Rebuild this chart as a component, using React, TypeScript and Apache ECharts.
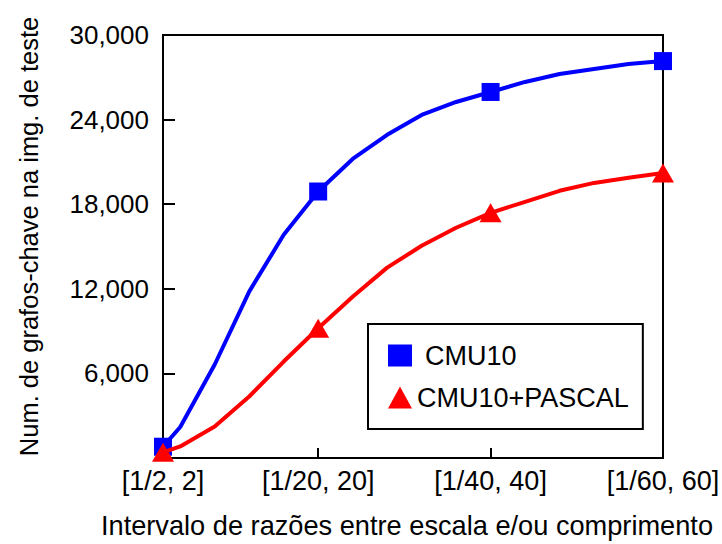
import React, { useEffect, useRef } from "react";
import * as echarts from "echarts";

const xValues = [2, 4, 8, 12, 16, 20, 24, 28, 32, 36, 40, 44, 48, 52, 56, 60];
const cmu10 = [800, 2200, 6630, 11800, 15830, 18900, 21210, 22920, 24330, 25250, 25960, 26670, 27230, 27590, 27940, 28150];
const cmu10Pascal = [400, 820, 2240, 4360, 6840, 9200, 11440, 13500, 15050, 16330, 17390, 18170, 18950, 19510, 19870, 20220];
const markerX = [2, 20, 40, 60];
const xTickLabels = ["[1/2, 2]", "[1/20, 20]", "[1/40, 40]", "[1/60, 60]"];
const seriesNames = ["CMU10", "CMU10+PASCAL"];
const xTitle = "Intervalo de razões entre escala e/ou comprimento";
const yTitle = "Num. de grafos-chave na img. de teste";

const FONT = "'Liberation Sans', Arial, Helvetica, sans-serif";

function buildData(vals: number[], symbol: string, size: number | number[]) {
  return xValues.map((x, i) => {
    const isMarker = markerX.indexOf(x) >= 0;
    return {
      value: [x, vals[i]],
      symbol: isMarker ? symbol : "none",
      symbolSize: isMarker ? size : 0,
    };
  });
}

export default function App() {
  const ref = useRef<HTMLDivElement>(null);
  useEffect(() => {
    if (!ref.current) return;
    const chart = echarts.init(ref.current, null, { renderer: "svg" });
    chart.setOption({
      animation: false,
      backgroundColor: "#ffffff",
      textStyle: { fontFamily: FONT },
      grid: {
        left: 163,
        top: 35,
        right: 59,
        bottom: 86,
        containLabel: false,
        outerBoundsMode: "none",
        show: true,
        borderColor: "#000",
        borderWidth: 2,
        backgroundColor: "transparent",
      },
      legend: {
        orient: "vertical",
        left: 368,
        top: 324,
        borderColor: "#000",
        borderWidth: 2,
        padding: [18, 14, 18, 20],
        itemGap: 15,
        itemWidth: 24,
        itemHeight: 22,
        textStyle: { fontSize: 27, color: "#000", fontFamily: FONT },
        data: [
          { name: seriesNames[0], icon: "rect", textStyle: { padding: [0, 0, 0, 8] } },
          { name: seriesNames[1], icon: "triangle" },
        ],
      },
      xAxis: {
        type: "value",
        min: 2,
        max: 60,
        name: xTitle,
        nameLocation: "middle",
        nameGap: 54,
        nameTextStyle: { fontSize: 27.2, color: "#000", fontFamily: FONT, padding: [0, 12, 0, 0] },
        axisLine: { show: true, lineStyle: { color: "#000", width: 2 } },
        axisTick: {
          show: true,
          inside: true,
          length: 10,
          customValues: [20, 40],
          lineStyle: { color: "#000", width: 2 },
        },
        axisLabel: {
          customValues: markerX,
          formatter: (v: number) => xTickLabels[markerX.indexOf(v)] ?? "",
          fontSize: 27,
          color: "#000",
          margin: 9,
          fontFamily: FONT,
          hideOverlap: false,
          showMaxLabel: true,
          showMinLabel: true,
        },
        splitLine: { show: false },
      },
      yAxis: {
        type: "value",
        min: 0,
        max: 30000,
        interval: 6000,
        name: yTitle,
        nameLocation: "middle",
        nameGap: 121,
        nameRotate: 90,
        nameTextStyle: { fontSize: 25.5, color: "#000", fontFamily: FONT, padding: [0, 0, 0, 20] },
        axisLine: { show: true, lineStyle: { color: "#000", width: 2 } },
        axisTick: {
          show: true,
          inside: true,
          length: 12,
          customValues: [6000, 12000, 18000, 24000],
          lineStyle: { color: "#000", width: 2 },
        },
        axisLabel: {
          customValues: [6000, 12000, 18000, 24000, 30000],
          formatter: (v: number) => v.toLocaleString("en-US"),
          fontSize: 26,
          color: "#000",
          margin: 14,
          fontFamily: FONT,
        },
        splitLine: { show: false },
      },
      series: [
        {
          name: seriesNames[0],
          type: "line",
          color: "#0000ff",
          showAllSymbol: true,
          symbol: "rect",
          lineStyle: { width: 4, color: "#0000ff" },
          itemStyle: { color: "#0000ff" },
          data: buildData(cmu10, "rect", 18),
          z: 3,
        },
        {
          name: seriesNames[1],
          type: "line",
          color: "#ff0000",
          showAllSymbol: true,
          symbol: "triangle",
          lineStyle: { width: 4, color: "#ff0000" },
          itemStyle: { color: "#ff0000" },
          data: buildData(cmu10Pascal, "triangle", [22, 19]),
          z: 4,
        },
      ],
    });
    return () => chart.dispose();
  }, []);
  return (
    <div
      ref={ref}
      style={{ position: "absolute", left: 0, top: 0, width: 722, height: 544 }}
    />
  );
}
